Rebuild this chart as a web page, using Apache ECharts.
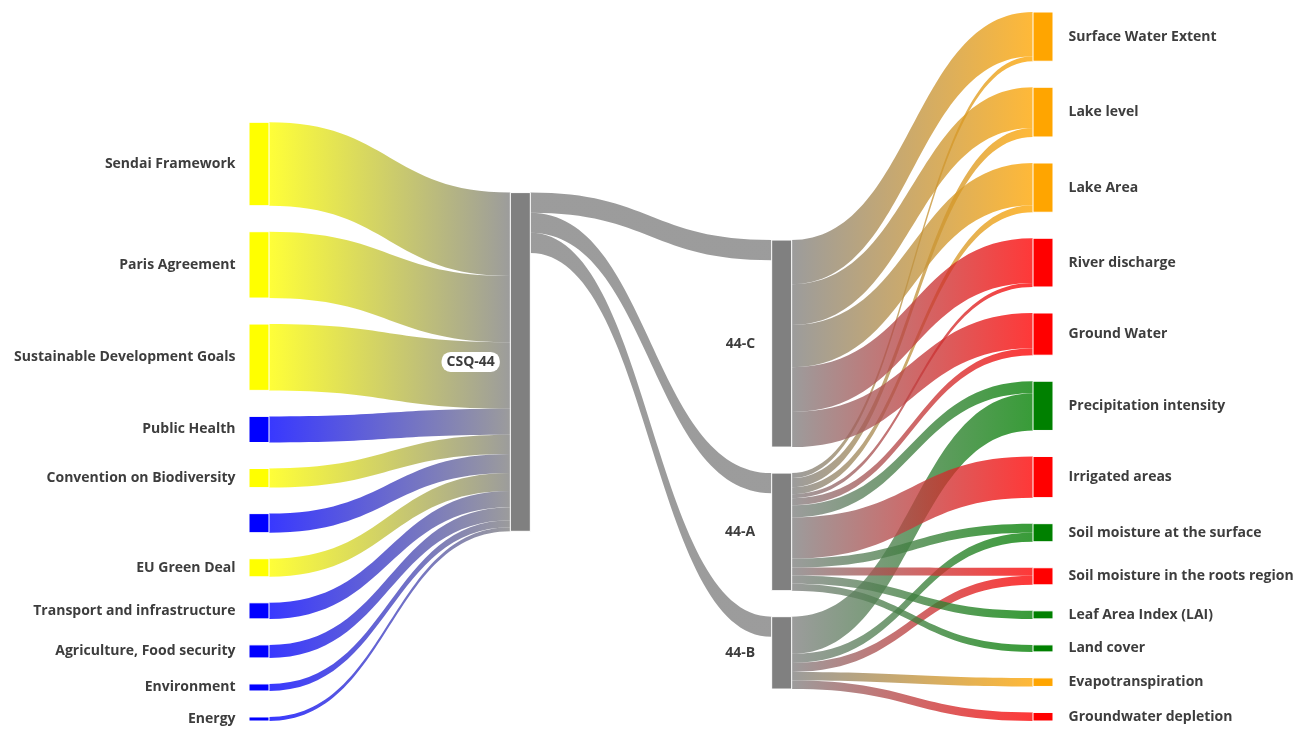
<!DOCTYPE html>
<html>
<head>
<meta charset="utf-8">
<title>CSQ-44 sankey</title>
<script src="https://cdn.jsdelivr.net/npm/echarts@6/dist/echarts.min.js"></script>
<style>
  html, body { margin: 0; padding: 0; background: #fff; }
  #chart { width: 1311px; height: 731px; }
</style>
</head>
<body>
<div id="chart"></div>
<script>
// policy / sector drivers feeding the question
const driverNames = [
  'Sendai Framework', 'Paris Agreement', 'Sustainable Development Goals',
  'Public Health', 'Convention on Biodiversity', ' ', 'EU Green Deal',
  'Transport and infrastructure', 'Agriculture, Food security',
  'Environment', 'Energy'
];
const driverValues = [83, 66, 66, 26, 19, 19, 18, 16, 13, 7, 4];
const driverGroup = ['policy', 'policy', 'policy', 'sector', 'policy', 'sector',
  'policy', 'sector', 'sector', 'sector', 'sector'];

const hubName = 'CSQ-44';
const subNames = ['44-C', '44-A', '44-B'];
const hubToSub = [20, 20, 20];

// variables, with what each sub-question sends to them: [44-C, 44-A, 44-B]
const varNames = [
  'Surface Water Extent', 'Lake level', 'Lake Area', 'River discharge',
  'Ground Water', 'Precipitation intensity', 'Irrigated areas',
  'Soil moisture at the surface', 'Soil moisture in the roots region',
  'Leaf Area Index (LAI)', 'Land cover', 'Evapotranspiration',
  'Groundwater depletion'
];
const varGroup = ['orange', 'orange', 'orange', 'red', 'red', 'green', 'red',
  'green', 'red', 'green', 'green', 'orange', 'red'];
const fromC = [44, 40.5, 42, 44.5, 35, 0, 0, 0, 0, 0, 0, 0, 0];
const fromA = [5, 9, 7, 4, 7, 12, 41, 9, 8, 8, 7, 0, 0];
const fromB = [0, 0, 0, 0, 0, 37, 0, 9, 9, 0, 0, 8.5, 8.5];

const colors = {
  policy: '#ffff00',
  sector: '#0000ff',
  grey: '#808080',
  orange: '#ffa500',
  red: '#ff0000',
  green: '#008000'
};

const nodes = [];
const links = [];

driverNames.forEach(function (name, i) {
  nodes.push({ name: name, itemStyle: { color: colors[driverGroup[i]] } });
  links.push({ source: name, target: hubName, value: driverValues[i] });
});
nodes.push({
  name: hubName,
  itemStyle: { color: colors.grey },
  label: {
    backgroundColor: '#fff',
    borderRadius: 9,
    padding: [3, 5],
    distance: 10
  }
});
subNames.forEach(function (name, i) {
  nodes.push({ name: name, itemStyle: { color: colors.grey } });
  links.push({ source: hubName, target: name, value: hubToSub[i] });
});
varNames.forEach(function (name, i) {
  nodes.push({ name: name, itemStyle: { color: colors[varGroup[i]] } });
  [fromC, fromA, fromB].forEach(function (arr, j) {
    if (arr[i] > 0) {
      links.push({ source: subNames[j], target: name, value: arr[i] });
    }
  });
});

const chart = echarts.init(document.getElementById('chart'));
chart.setOption({
  animation: false,
  series: [{
    type: 'sankey',
    left: 249,
    right: 258,
    top: 12,
    bottom: 10,
    nodeWidth: 20,
    nodeGap: 26,
    layoutIterations: 12,
    draggable: false,
    data: nodes,
    links: links,
    itemStyle: { borderWidth: 1, borderColor: '#fff' },
    lineStyle: { color: 'gradient', opacity: 0.78, curveness: 0.5 },
    label: {
      position: 'left',
      distance: 13,
      fontFamily: 'Open Sans',
      fontWeight: 'bold',
      fontSize: 14,
      color: '#3d3d3d'
    },
    levels: [
      { depth: 0, label: { position: 'left', distance: 13 } },
      { depth: 1, label: { position: 'left', distance: 10 } },
      { depth: 2, label: { position: 'left', distance: 16 } },
      { depth: 3, label: { position: 'right', distance: 15 } }
    ],
    emphasis: { disabled: true }
  }]
});
</script>
</body>
</html>
